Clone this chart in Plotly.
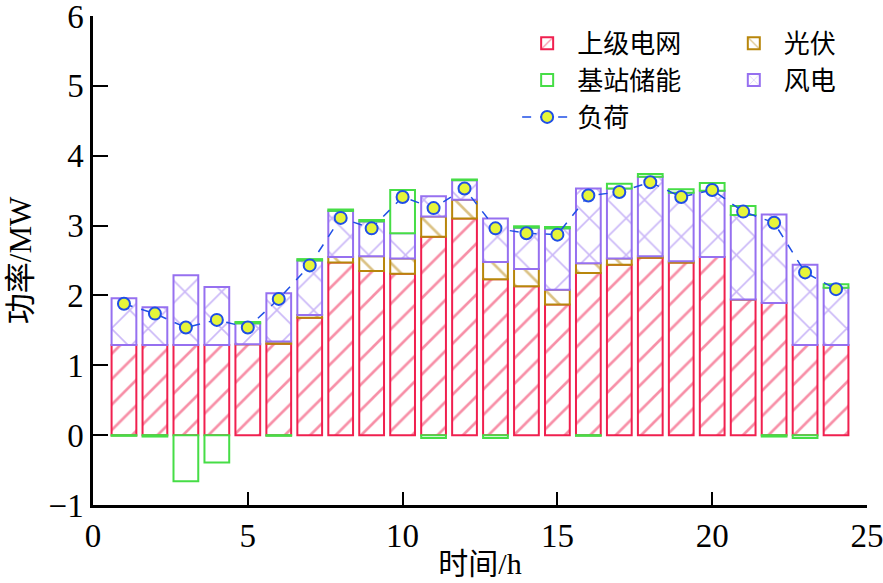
import plotly.graph_objects as go

hours = list(range(1, 25))

# 上级电网
grid = [1.29, 1.29, 1.29, 1.29, 1.30, 1.31, 1.68, 2.47, 2.35, 2.31, 2.84, 3.10,
        2.23, 2.13, 1.87, 2.32, 2.44, 2.54, 2.47, 2.55, 1.94, 1.89, 1.29, 1.29]
# 光伏
pv = [0, 0, 0, 0, 0, 0.03, 0.04, 0.08, 0.21, 0.22, 0.29, 0.27,
      0.25, 0.25, 0.21, 0.14, 0.09, 0.02, 0.02, 0, 0, 0, 0, 0]
# 风电
wind = [0.67, 0.54, 1.00, 0.83, 0.30, 0.69, 0.78, 0.66, 0.50, 0.36, 0.29, 0.28,
        0.62, 0.59, 0.88, 1.07, 1.00, 1.14, 0.98, 0.95, 1.21, 1.27, 1.15, 0.82]
# 基站储能
storage = [-0.01, -0.02, -0.66, -0.39, 0.02, -0.01, 0.02, 0.02, 0.02, 0.62, -0.04, 0.01,
           -0.04, 0.02, 0.02, -0.01, 0.07, 0.04, 0.05, 0.11, 0.13, -0.02, -0.04, 0.05]
# 负荷
load = [1.88, 1.74, 1.54, 1.65, 1.54, 1.95, 2.43, 3.11, 2.96, 3.41, 3.25, 3.53,
        2.96, 2.89, 2.87, 3.43, 3.48, 3.62, 3.41, 3.51, 3.20, 3.04, 2.33, 2.09]

RED = '#F0204F'
GOLD = '#B8860B'
GREEN = '#46DD46'
PURPLE = '#9670F0'
BLUE = '#1F4FE6'
YELLOW = '#E6F53A'

FONT = 'Liberation Serif, Noto Sans CJK SC'

fig = go.Figure()

fig.add_bar(
    x=hours, y=grid, name='上级电网', width=0.8,
    marker=dict(color='white', line=dict(color=RED, width=2),
                pattern=dict(shape='/', fgcolor=RED, bgcolor='white', size=18, solidity=0.15)),
    legend='legend', legendrank=1
)
fig.add_bar(
    x=hours, y=pv, name='光伏', width=0.8,
    marker=dict(color='white', line=dict(color=GOLD, width=2),
                pattern=dict(shape='\\', fgcolor=GOLD, bgcolor='white', size=18, solidity=0.15)),
    legend='legend2', legendrank=1
)
fig.add_bar(
    x=hours, y=wind, name='风电', width=0.8,
    marker=dict(color='white', line=dict(color=PURPLE, width=2),
                pattern=dict(shape='x', fgcolor=PURPLE, bgcolor='white', size=26, solidity=0.12)),
    legend='legend2', legendrank=2
)
fig.add_bar(
    x=hours, y=storage, name='基站储能', width=0.8,
    marker=dict(color='white', line=dict(color=GREEN, width=2)),
    legend='legend', legendrank=2
)
fig.add_scatter(
    x=hours, y=load, name='负荷', mode='lines+markers',
    line=dict(color=BLUE, width=1.5, dash='dash'),
    marker=dict(size=12, color=YELLOW, line=dict(color=BLUE, width=2)),
    legend='legend', legendrank=3
)

fig.update_layout(
    barmode='relative',
    width=883, height=583,
    margin=dict(l=93, r=16, t=16, b=78, autoexpand=False),
    plot_bgcolor='white', paper_bgcolor='white',
    font=dict(family=FONT, size=32, color='black'),
    showlegend=True,
    legend=dict(x=0.548, y=0.992, xanchor='left', yanchor='top',
                font=dict(size=26), itemwidth=50, bgcolor='rgba(0,0,0,0)',
                tracegroupgap=0),
    legend2=dict(x=0.815, y=0.992, xanchor='left', yanchor='top',
                 font=dict(size=26), itemwidth=50, bgcolor='rgba(0,0,0,0)',
                 tracegroupgap=0),
)

fig.update_xaxes(
    range=[0, 25], tickvals=[0, 5, 10, 15, 20, 25],
    showline=True, linecolor='black', linewidth=2.5,
    ticks='inside', ticklen=13, tickwidth=2, tickcolor='black',
    showgrid=False, zeroline=False, automargin=False,
    ticklabeloverflow='allow',
    title=dict(text='时间/h', font=dict(size=30), standoff=0),
    tickfont=dict(size=33)
)
fig.update_yaxes(
    range=[-1, 6], tickvals=[-1, 0, 1, 2, 3, 4, 5, 6],
    ticktext=['−1', '0', '1', '2', '3', '4', '5', '6'],
    showline=True, linecolor='black', linewidth=2.5,
    ticks='inside', ticklen=15, tickwidth=2, tickcolor='black',
    showgrid=False, zeroline=False, automargin=False,
    ticklabeloverflow='allow',
    title=dict(text='功率/MW', font=dict(size=31), standoff=8),
    tickfont=dict(size=33)
)

# drop the page's default 8px body margin so the figure fills the window
fig.write_html("out.html", config={'displayModeBar': False},
               post_script="document.body.style.margin = '0';")
